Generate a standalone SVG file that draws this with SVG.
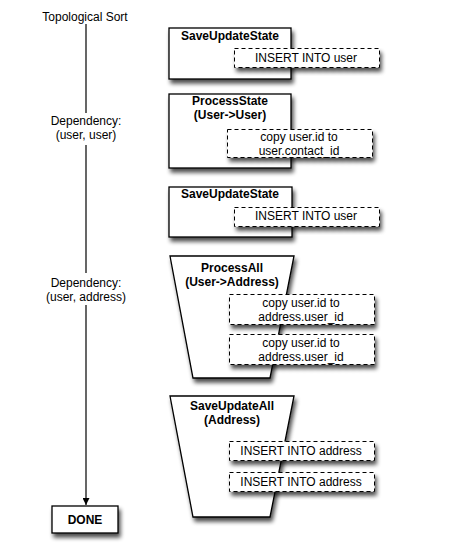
<svg xmlns="http://www.w3.org/2000/svg" width="458" height="552" viewBox="0 0 458 552">
<defs>
<filter id="sh" x="-20%" y="-20%" width="150%" height="160%">
<feGaussianBlur in="SourceAlpha" stdDeviation="2"/>
<feOffset dx="2" dy="4" result="b"/>
<feComponentTransfer><feFuncA type="linear" slope="0.7"/></feComponentTransfer>
<feMerge><feMergeNode/><feMergeNode in="SourceGraphic"/></feMerge>
</filter>
<marker id="arr" viewBox="0 0 10 10" refX="10" refY="5" markerWidth="7" markerHeight="7" markerUnits="userSpaceOnUse" orient="auto">
<path d="M0,0 L10,5 L0,10 z" fill="#000"/>
</marker>
<style>
text{font-family:"Liberation Sans",Arial,sans-serif;font-size:12px;fill:#000;text-anchor:middle}
.b{font-weight:bold}
.box{fill:#fff;stroke:#000;stroke-width:1.3}
.dash{fill:#fff;stroke:#000;stroke-width:1;stroke-dasharray:4,3}
.ln{stroke:#000;stroke-width:1.2;fill:none}
</style>
</defs>
<rect width="458" height="552" fill="#fff"/>
<g id="connectors">
<line class="ln" x1="86" y1="24" x2="86" y2="113"/>
<line class="ln" x1="86" y1="145" x2="86" y2="273"/>
<line class="ln" x1="86" y1="305" x2="86" y2="505" marker-end="url(#arr)"/>
</g>
<g id="labels">
<text x="85" y="21">Topological Sort</text>
<text x="86" y="125">Dependency:</text>
<text x="86" y="139">(user, user)</text>
<text x="86" y="287">Dependency:</text>
<text x="86" y="301">(user, address)</text>
</g>
<g id="done">
<rect class="box" x="52" y="506" width="66" height="27" filter="url(#sh)"/>
<text class="b" x="85" y="524">DONE</text>
</g>
<g id="save1">
<rect class="box" x="169" y="28" width="122" height="51" filter="url(#sh)"/>
<text class="b" x="230" y="40">SaveUpdateState</text>
<rect class="dash" x="234.5" y="48.5" width="145" height="19" filter="url(#sh)"/>
<text x="306" y="62">INSERT INTO user</text>
</g>
<g id="process1">
<rect class="box" x="169" y="94" width="122" height="74" filter="url(#sh)"/>
<text class="b" x="230" y="105">ProcessState</text>
<text class="b" x="230" y="119">(User-&gt;User)</text>
<rect class="dash" x="227.5" y="129.5" width="145" height="28" filter="url(#sh)"/>
<text x="299" y="141">copy user.id to</text>
<text x="299" y="155">user.contact_id</text>
</g>
<g id="save2">
<rect class="box" x="169" y="187" width="123" height="50" filter="url(#sh)"/>
<text class="b" x="230" y="198">SaveUpdateState</text>
<rect class="dash" x="234.5" y="207.5" width="145" height="19" filter="url(#sh)"/>
<text x="306" y="220">INSERT INTO user</text>
</g>
<g id="processall">
<polygon class="box" points="170,256 294,256 270,378 193,378" filter="url(#sh)"/>
<text class="b" x="232" y="272">ProcessAll</text>
<text class="b" x="232" y="286">(User-&gt;Address)</text>
<rect class="dash" x="229.5" y="294.5" width="145" height="30" filter="url(#sh)"/>
<text x="301" y="307">copy user.id to</text>
<text x="301" y="321">address.user_id</text>
<rect class="dash" x="229.5" y="334.5" width="145" height="30" filter="url(#sh)"/>
<text x="301" y="347">copy user.id to</text>
<text x="301" y="361">address.user_id</text>
</g>
<g id="saveall">
<polygon class="box" points="170,396 294,396 270,517 193,517" filter="url(#sh)"/>
<text class="b" x="232" y="410">SaveUpdateAll</text>
<text class="b" x="232" y="424">(Address)</text>
<rect class="dash" x="229.5" y="441.5" width="145" height="19" filter="url(#sh)"/>
<text x="301" y="455">INSERT INTO address</text>
<rect class="dash" x="229.5" y="472.5" width="145" height="19" filter="url(#sh)"/>
<text x="301" y="486">INSERT INTO address</text>
</g>
</svg>
